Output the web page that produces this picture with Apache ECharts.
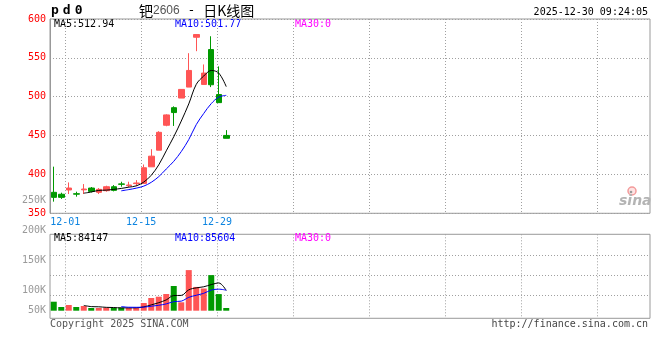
<!DOCTYPE html>
<html><head><meta charset="utf-8">
<script src="https://cdn.jsdelivr.net/npm/echarts@6/dist/echarts.min.js"></script>
<style>html,body{margin:0;padding:0;background:#fff}#c{width:660px;height:360px}</style>
</head><body><div id="c"></div>
<script>
// ---- data ----
const dates = ['11-27','11-28','12-01','12-02','12-03','12-04','12-05','12-08','12-09','12-10','12-11','12-12',
  '12-15','12-16','12-17','12-18','12-19','12-22','12-23','12-24','12-25','12-26','12-29','12-30'];
const opens  = [377.0,374.5,380.0,375.2,380.2,382.5,377.0,379.1,384.2,387.8,385.5,388.2,388.5,409.8,431.2,463.3,485.9,498.3,512.4,576.5,515.8,560.7,502.8,450.2];
const closes = [370.5,370.5,382.5,374.6,381.2,378.2,380.8,384.2,379.5,387.3,386.4,389.0,408.6,423.5,454.2,476.6,479.6,509.4,533.8,580.0,530.4,515.4,492.4,446.5];
const lows   = [365.0,368.5,374.8,371.4,374.8,376.9,374.8,377.8,378.2,384.2,383.3,385.0,387.6,409.8,431.2,462.0,462.4,498.3,512.4,558.6,515.8,512.4,492.4,446.5];
const highs  = [410.0,376.5,389.7,377.8,387.6,383.8,382.5,385.5,386.3,390.6,390.6,392.7,412.8,432.5,455.6,477.4,487.6,509.4,556.0,580.0,541.5,577.8,539.0,457.0];
const ma5  = [null,null,null,null,375.86,377.40,379.46,379.80,380.78,382.00,383.64,385.28,390.16,398.96,412.34,430.38,448.50,468.66,490.72,515.88,526.64,533.80,530.40,512.94];
const ma10 = [null,null,null,null,null,null,null,null,null,378.93,380.52,382.37,384.98,389.87,397.17,407.01,416.89,429.41,444.84,464.11,478.51,491.15,499.53,501.77];
const volumes = [37500,15400,23800,15400,19600,11300,11300,12500,11300,12500,11300,12500,32100,53000,58400,69600,103000,35000,169305,99100,92600,148400,69300,11335];
const vma5  = [null,null,null,null,22340,17100,16280,14020,13200,11780,11780,12020,15940,24280,33460,45120,63220,63800,87061,95201,99801,108881,115741,84147];
const vma10 = [null,null,null,null,null,null,null,null,null,17060,14440,14150,14980,18740,22620,28450,37620,39870,55671,64331,72461,86051,89771,85604];
const priceAxis = {min: 350, max: 600, step: 50};
const volLabelAxis = {min: 50000, max: 250000, step: 50000};
const volLabels = {50000:'50K',100000:'100K',150000:'150K',200000:'200K',250000:'250K'};
const slotCount = 80;
const titleCode = 'pd0';
const titleName = ['钯','2606',' - ','日K线图'];
const timeStamp = '2025-12-30 09:24:05';
const priceMA = ['MA5:512.94','MA10:501.77','MA30:0'];
const volMA = ['MA5:84147','MA10:85604','MA30:0'];
const footLeft = 'Copyright 2025 SINA.COM';
const footRight = 'http://finance.sina.com.cn';

// ---- build ----
const cats = dates.concat(Array.from({length: slotCount - dates.length}, () => ''));
const RED = '#ff5555', GREEN = '#009900';
const MONO = '"DejaVu Sans Mono", "Liberation Mono", monospace';
const gridDot = {color: '#a0a0a0', type: [1, 2], width: 1};
const every10 = (i) => i % 10 === 2;
const upColor = (i) => closes[i] >= opens[i] ? RED : GREEN;

const hiddenCat = (gridIndex) => ({type: 'category', gridIndex, data: cats, boundaryGap: true, position: 'top',
  axisLine: {show: false}, axisTick: {show: false}, axisLabel: {show: false}, splitLine: {show: false}});

const chart = echarts.init(document.getElementById('c'), null, {renderer: 'canvas'});
chart.setOption({
  animation: false,
  backgroundColor: '#fff',
  grid: [
    {left: 50, right: 10, top: 19, height: 194.3, show: true, borderColor: '#999', borderWidth: 1, backgroundColor: 'transparent'},
    {left: 50, right: 10, top: 234.3, height: 84, show: true, borderColor: '#999', borderWidth: 1, backgroundColor: 'transparent'},
    {left: 50, right: 10, top: 255, height: 40},
    {left: 50, right: 10, top: 200.7, height: 120}
  ],
  xAxis: [
    hiddenCat(0),
    {type: 'category', gridIndex: 0, data: cats, boundaryGap: false, position: 'bottom',
      axisLine: {show: false}, axisTick: {show: false},
      axisLabel: {interval: every10, color: '#0d84e0', fontFamily: MONO, fontSize: 10, margin: 4},
      splitLine: {show: true, interval: every10, lineStyle: gridDot}},
    hiddenCat(1),
    {type: 'category', gridIndex: 1, data: cats, boundaryGap: false, position: 'bottom',
      axisLine: {show: false}, axisTick: {show: false}, axisLabel: {show: false},
      splitLine: {show: true, interval: every10, lineStyle: gridDot}},
    hiddenCat(2),
    hiddenCat(3)
  ],
  yAxis: [
    {type: 'value', gridIndex: 0, min: priceAxis.min, max: priceAxis.max, interval: priceAxis.step,
      axisLine: {show: true, lineStyle: {color: '#999'}}, axisTick: {show: false},
      axisLabel: {color: '#ff0000', fontFamily: MONO, fontSize: 10, margin: 4},
      splitLine: {show: true, lineStyle: gridDot}},
    {type: 'value', gridIndex: 1, min: -31700, max: 318600,
      axisLine: {show: false}, axisTick: {show: false}, axisLabel: {show: false}, splitLine: {show: false}},
    {type: 'value', gridIndex: 2, min: 0, max: 2, interval: 1,
      axisLine: {show: false}, axisTick: {show: false}, axisLabel: {show: false},
      splitLine: {show: true, lineStyle: gridDot}},
    {type: 'value', gridIndex: 3, min: volLabelAxis.min, max: volLabelAxis.max, interval: volLabelAxis.step,
      axisLine: {show: false}, axisTick: {show: false}, splitLine: {show: false},
      axisLabel: {color: '#9a9a9a', fontFamily: MONO, fontSize: 10, margin: 4,
        formatter: (v) => v === volLabelAxis.min ? '{up|' + volLabels[v] + '}' : volLabels[v],
        rich: {up: {color: '#9a9a9a', fontFamily: MONO, fontSize: 10, padding: [0, 0, 21, 0]}}}}
  ],
  series: [
    {type: 'candlestick', xAxisIndex: 0, yAxisIndex: 0, barWidth: 6,
      data: dates.map((d, i) => [opens[i], closes[i], lows[i], highs[i]]),
      itemStyle: {color: RED, color0: GREEN, borderColor: RED, borderColor0: GREEN, borderWidth: 1}},
    {type: 'line', xAxisIndex: 0, yAxisIndex: 0, data: ma5, smooth: 0.35, symbol: 'none',
      lineStyle: {color: '#000', width: 1}},
    {type: 'line', xAxisIndex: 0, yAxisIndex: 0, data: ma10, smooth: 0.35, symbol: 'none',
      lineStyle: {color: '#0000ff', width: 1}},
    {type: 'bar', xAxisIndex: 2, yAxisIndex: 1, barWidth: 6, data: volumes,
      itemStyle: {color: (p) => upColor(p.dataIndex)}},
    {type: 'line', xAxisIndex: 2, yAxisIndex: 1, data: vma5, smooth: 0.35, symbol: 'none',
      lineStyle: {color: '#000', width: 1}},
    {type: 'line', xAxisIndex: 2, yAxisIndex: 1, data: vma10, smooth: 0.35, symbol: 'none',
      lineStyle: {color: '#0000ff', width: 1}}
  ],
  graphic: [
    {type: 'text', x: 49, y: 11, style: {text: titleCode.split('').map(ch => '{a|' + ch + '}').join(''),
      verticalAlign: 'middle', rich: {a: {fontFamily: MONO, fontWeight: 'bold', fontSize: 13, fill: '#000', padding: [0, 2, 0, 2]}}}},
    {type: 'text', x: 139, y: 11, style: {text: '{c|' + titleName[0] + '}{d|' + titleName[1] + '}{m|' + titleName[2] + '}{c|' + titleName[3] + '}',
      verticalAlign: 'middle', rich: {
        c: {fontFamily: '"Noto Sans CJK SC"', fontSize: 14, fill: '#000'},
        m: {fontFamily: MONO, fontSize: 13, fill: '#000'},
        d: {fontFamily: 'Arial, "Liberation Sans", sans-serif', fontSize: 12, fill: '#555'}}}},
    {type: 'text', x: 648, y: 12, style: {text: timeStamp, font: '10px ' + MONO, fill: '#000', align: 'right', verticalAlign: 'middle'}},
    {type: 'text', x: 54, y: 24, style: {text: priceMA[0], font: '10px ' + MONO, fill: '#000', verticalAlign: 'middle'}},
    {type: 'text', x: 175, y: 24, style: {text: priceMA[1], font: '10px ' + MONO, fill: '#0000ff', verticalAlign: 'middle'}},
    {type: 'text', x: 295, y: 24, style: {text: priceMA[2], font: '10px ' + MONO, fill: '#ff00ff', verticalAlign: 'middle'}},
    {type: 'text', x: 54, y: 238.5, style: {text: volMA[0], font: '10px ' + MONO, fill: '#000', verticalAlign: 'middle'}},
    {type: 'text', x: 175, y: 238.5, style: {text: volMA[1], font: '10px ' + MONO, fill: '#0000ff', verticalAlign: 'middle'}},
    {type: 'text', x: 295, y: 238.5, style: {text: volMA[2], font: '10px ' + MONO, fill: '#ff00ff', verticalAlign: 'middle'}},
    {type: 'text', x: 50, y: 324, style: {text: footLeft, font: '10px ' + MONO, fill: '#555', verticalAlign: 'middle'}},
    {type: 'text', x: 648, y: 324, style: {text: footRight, font: '10px ' + MONO, fill: '#444', align: 'right', verticalAlign: 'middle'}},
    {type: 'circle', shape: {cx: 632, cy: 191, r: 4}, style: {fill: '#fde3e3', stroke: '#f39a9a', lineWidth: 1.5}, z: 5},
    {type: 'circle', shape: {cx: 631, cy: 192, r: 1.3}, style: {fill: '#999'}, z: 6},
    {type: 'text', x: 619, y: 201, style: {text: 'sina', font: 'italic bold 14px "DejaVu Sans", sans-serif', fill: '#b4b4b4', verticalAlign: 'middle'}, z: 5}
  ]
});
</script></body></html>
